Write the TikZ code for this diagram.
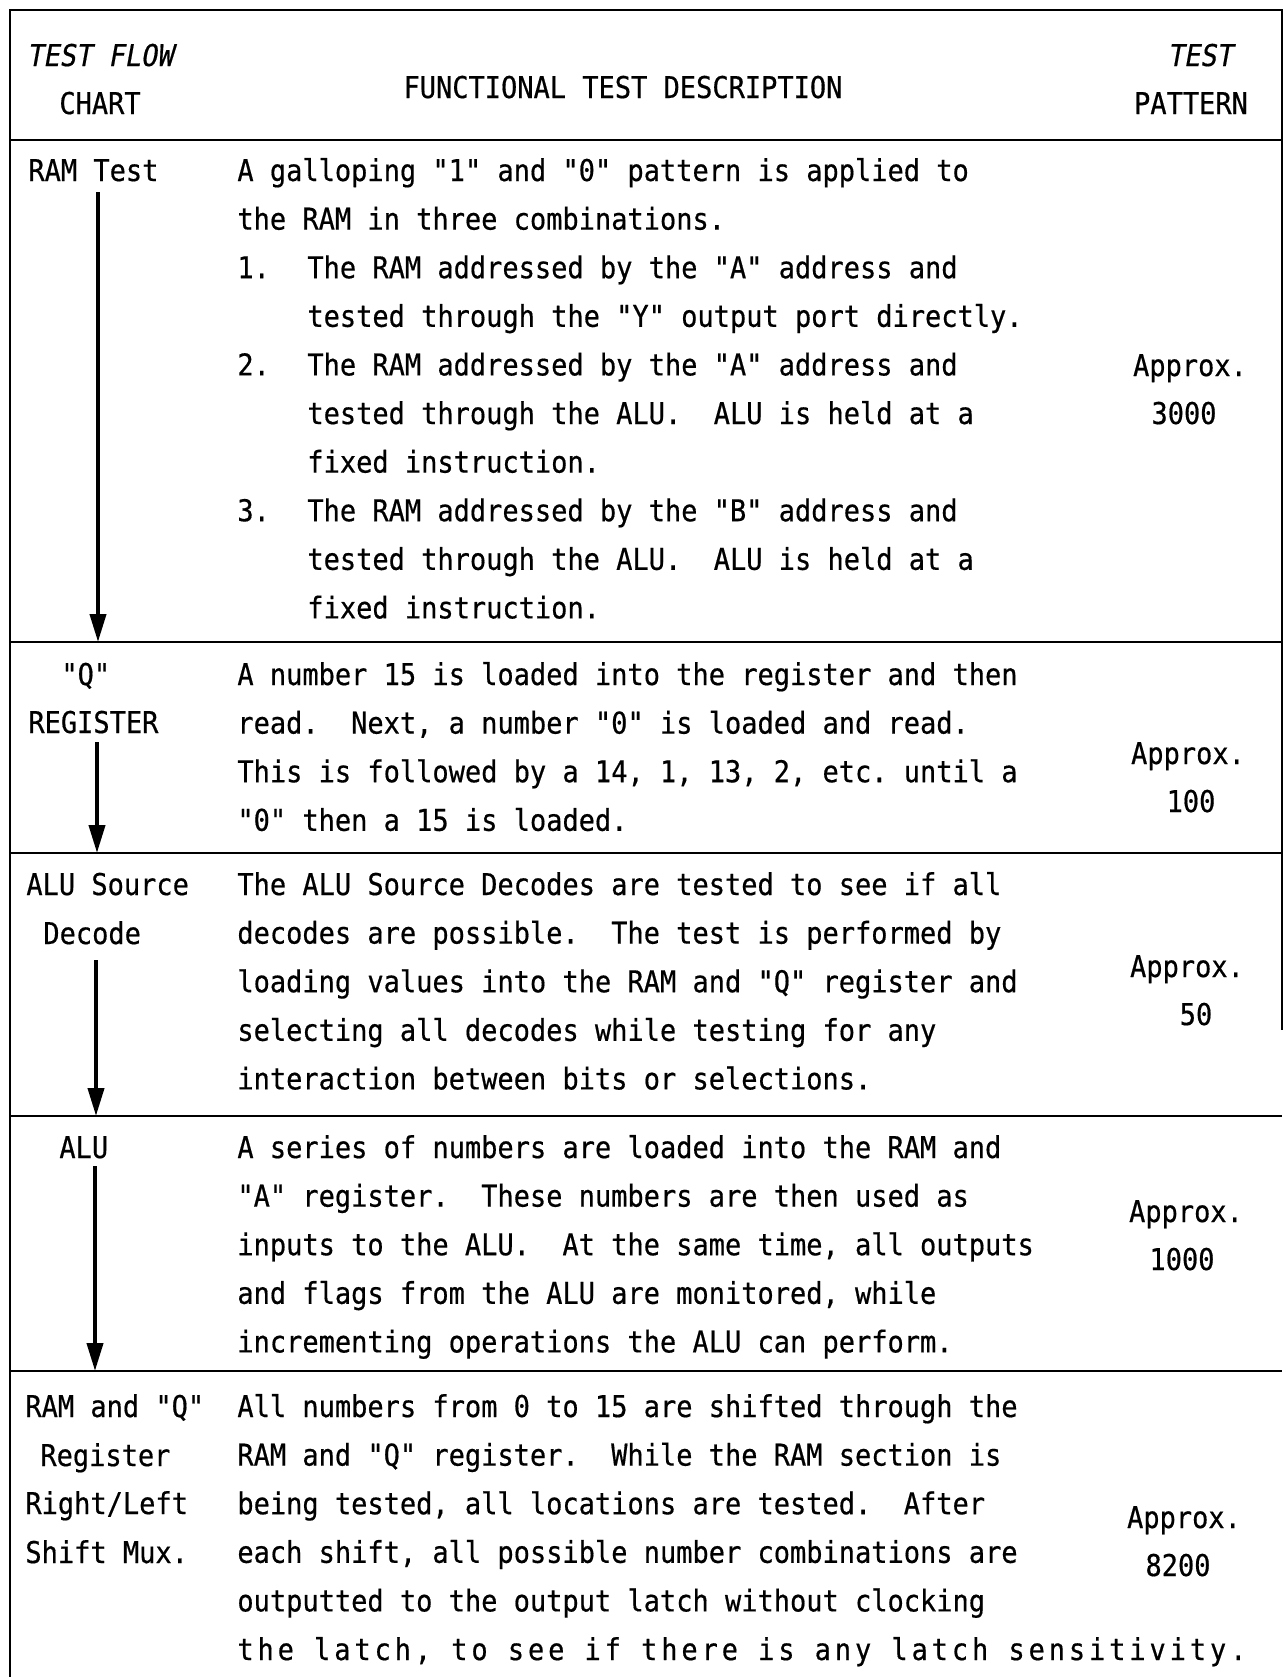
\documentclass[tikz,border=0pt]{standalone}
\usepackage{fontspec}
\newfontfamily\tw[FakeStretch=0.9,FakeBold=0.5]{DejaVu Sans Mono}
\newfontfamily\twi[FakeStretch=0.9,FakeSlant=0.18,FakeBold=0.5]{DejaVu Sans Mono}
\usetikzlibrary{arrows.meta}
\frenchspacing
\begin{document}
\begin{tikzpicture}[x=0.5pt,y=-0.5pt,
  txt/.style={anchor=base west, inner sep=0pt, font=\tw\fontsize{15}{24.3}\selectfont\frenchspacing, align=left},
  ctr/.style={anchor=base, inner sep=0pt, font=\tw\fontsize{15}{24.3}\selectfont},
  rule/.style={line width=1.2pt},
  flow/.style={line width=2pt, -{Triangle[length=14pt,width=8pt]}}]
\useasboundingbox (0,0) rectangle (1287,1677);
\fill[white] (0,0) rectangle (1287,1677);

% frame and rules
\draw[rule] (10,1677) -- (10,10) -- (1282,10) -- (1282,1030);
\draw[rule] (10,140) -- (1282,140);
\draw[rule] (10,642) -- (1282,642);
\draw[rule] (10,853) -- (1282,853);
\draw[rule] (10,1116) -- (1282,1116);
\draw[rule] (10,1371) -- (1282,1371);

% header
\node[ctr] (h1) at (100,66) {\twi TEST FLOW};
\node[ctr] (h2) at (100,114) {CHART};
\node[ctr] (h3) at (623,98) {FUNCTIONAL TEST DESCRIPTION};
\node[ctr] (h4) at (1200,66) {\twi TEST};
\node[ctr] (h5) at (1191,114) {PATTERN};

% left column
\node[txt] (lc1) at (28,181) {RAM Test};
\node[txt] (lc2a) at (61,685) {"Q"};
\node[txt] (lc2b) at (28,733) {REGISTER};
\node[txt] (lc3a) at (26,895) {ALU Source};
\node[txt] (lc3b) at (43,944) {Decode};
\node[txt] (lc4) at (59,1158) {ALU};
\node[txt] (lc5a) at (25,1417) {RAM and "Q"};
\node[txt] (lc5b) at (40,1466) {Register};
\node[txt] (lc5c) at (25,1514) {Right/Left};
\node[txt] (lc5d) at (25,1563) {Shift Mux.};

% descriptions (base anchor = baseline of the last line)
\node[txt] (d1) at (237,618.4) {A galloping "1" and "0" pattern is applied to\\
the RAM in three combinations.\\
\makebox[35pt][l]{1.}The RAM addressed by the "A" address and\\
\hspace*{35pt}tested through the "Y" output port directly.\\
\makebox[35pt][l]{2.}The RAM addressed by the "A" address and\\
\hspace*{35pt}tested through the ALU.~ ALU is held at a\\
\hspace*{35pt}fixed instruction.\\
\makebox[35pt][l]{3.}The RAM addressed by the "B" address and\\
\hspace*{35pt}tested through the ALU.~ ALU is held at a\\
\hspace*{35pt}fixed instruction.};

\node[txt] (d2) at (237,830.8) {A number 15 is loaded into the register and then\\
read.~ Next, a number "0" is loaded and read.\\
This is followed by a 14, 1, 13, 2, etc. until a\\
"0" then a 15 is loaded.};

\node[txt] (d3) at (237,1089.4) {The ALU Source Decodes are tested to see if all\\
decodes are possible.~ The test is performed by\\
loading values into the RAM and "Q" register and\\
selecting all decodes while testing for any\\
interaction between bits or selections.};

\node[txt] (d4) at (237,1352.4) {A series of numbers are loaded into the RAM and\\
"A" register.~ These numbers are then used as\\
inputs to the ALU.~ At the same time, all outputs\\
and flags from the ALU are monitored, while\\
incrementing operations the ALU can perform.};

\node[txt] (d5) at (237,1660) {All numbers from 0 to 15 are shifted through the\\
RAM and "Q" register.~ While the RAM section is\\
being tested, all locations are tested.~ After\\
each shift, all possible number combinations are\\
outputted to the output latch without clocking\\
{\addfontfeature{LetterSpace=13}the latch, to see if there is any latch sensitivity.}};

% test pattern column
\node[ctr] (p1a) at (1190,376) {Approx.};
\node[ctr] (p1b) at (1184,424) {3000};
\node[ctr] (p2a) at (1188,764) {Approx.};
\node[ctr] (p2b) at (1191,812) {100};
\node[ctr] (p3a) at (1187,977) {Approx.};
\node[ctr] (p3b) at (1196,1025) {50};
\node[ctr] (p4a) at (1186,1222) {Approx.};
\node[ctr] (p4b) at (1182,1270) {1000};
\node[ctr] (p5a) at (1184,1528) {Approx.};
\node[ctr] (p5b) at (1178,1576) {8200};

% flow arrows
\coordinate (a1s) at (98,192);  \coordinate (a1e) at (98,642);
\coordinate (a2s) at (97,742);  \coordinate (a2e) at (97,853);
\coordinate (a3s) at (96,960);  \coordinate (a3e) at (96,1116);
\coordinate (a4s) at (95,1166); \coordinate (a4e) at (95,1371);
\draw[flow] (a1s) -- (a1e);
\draw[flow] (a2s) -- (a2e);
\draw[flow] (a3s) -- (a3e);
\draw[flow] (a4s) -- (a4e);
\end{tikzpicture}
\end{document}
